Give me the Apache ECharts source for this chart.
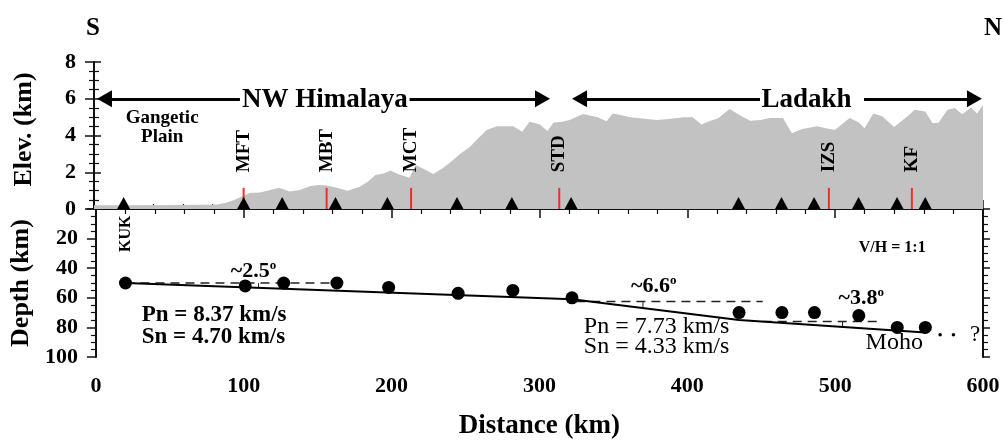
<!DOCTYPE html>
<html><head><meta charset="utf-8">
<script src="https://cdn.jsdelivr.net/npm/echarts@6/dist/echarts.min.js"></script>
<style>html,body{margin:0;padding:0;background:#fff}#c{width:1004px;height:441px}</style>
</head><body><div id="c"></div>
<script>
// ---- data ----
const elevDist = [0,20,60,83,90,95,99,105,112,119,125,132,139,146,152,157,164,171,179,185,190,196,200,205,213,217,222,229,235,240,247,254,260,265,272,278,283,289,294,301,306,310,316,321,330,340,346,350,356,362,373,380,388,398,404,410,416,421,429,437,443,450,456,465,471,478,488,494,500,510,516,520,526,532,540,549,554,561,566,570,576,581,586,592,596,600];
const elevKm = [0.2,0.2,0.22,0.25,0.35,0.5,0.65,0.87,0.9,1.03,1.16,0.95,1.03,1.25,1.3,1.28,1.15,1.0,1.2,1.5,1.85,1.95,2.1,1.9,1.7,2.4,2.2,1.9,2.2,2.5,3.0,3.4,3.9,4.3,4.5,4.5,4.5,4.2,4.75,4.6,4.25,4.7,4.75,4.85,5.17,5.0,4.78,5.2,5.1,5.0,4.9,4.85,4.9,5.0,5.0,4.6,4.8,4.93,5.44,5.05,4.8,4.84,4.95,4.95,4.12,4.35,4.5,4.4,4.3,4.95,4.72,4.4,5.2,5.05,4.46,5.05,5.4,5.3,4.66,4.7,5.4,5.5,5.15,5.52,5.2,5.66];
const stationDist = [20,101,127,163,198,245,282,322,435,464,486,516,542,561];
const mohoPtDepth = [50,52,50,50,53,57,55,60,70,70,70,72,80,80];
const mohoLineDist = [20,322,435,561];
const mohoLineDepth = [50,61,75,83.5];
const faultNames = ['MFT','MBT','MCT','STD','IZS','KF'];
const faultDist = [101,157,214,314,496,552];
const faultTop = 1.15;
const refDash = [[20,163,50],[325,451,62.5],[451,529,76]]; // [from, to, depth]
const angleMarks = [[110,50,53.5],[370,62.5,66.5],[505,76,79.5]];
const extDotsDist = [571,580];
const extDotsDepth = [85,85];
const distTicks = [0,100,200,300,400,500,600];
const elevTicks = [0,2,4,6,8];
const depthTicks = [0,20,40,60,80,100];
// region arrows: [tailKm, headKm] at 6 km elevation
const regionArrows = [[98.5,7.1],[213,302.7],[449.5,327.7],[519.7,594.2]];
const arrowElev = 6;

const FONT = 'Liberation Serif';
const axisCol = '#111';

function txt(gridIdx, items) {
  return {
    type: 'scatter', xAxisIndex: gridIdx === 0 ? 0 : 2, yAxisIndex: gridIdx === 0 ? 0 : 2,
    symbolSize: 1, itemStyle: { color: 'rgba(0,0,0,0)', opacity: 1 }, silent: true, clip: false, z: 20,
    label: { show: true, position: 'inside', color: '#000', opacity: 1, fontFamily: FONT, formatter: p => p.name },
    data: items
  };
}

const series = [];
// elevation profile
series.push({
  type: 'line', xAxisIndex: 0, yAxisIndex: 0, symbol: 'none', silent: true, z: 1,
  lineStyle: { width: 0 }, areaStyle: { color: '#c2c2c2', opacity: 1 },
  data: elevDist.map((d, i) => [d, elevKm[i]]),
  markLine: {
    silent: true, animation: false, symbol: ['none', 'triangle'], symbolSize: [17, 15],
    label: { show: false },
    lineStyle: { color: '#000', width: 3, type: 'solid', opacity: 1 },
    data: regionArrows.map(a => [{ coord: [a[0], arrowElev] }, { coord: [a[1], arrowElev] }])
  }
});
// fault lines
faultDist.forEach(f => series.push({
  type: 'line', xAxisIndex: 0, yAxisIndex: 0, symbol: 'none', silent: true, z: 3,
  lineStyle: { color: '#e8322c', width: 2 }, data: [[f, 0], [f, faultTop]]
}));
// stations
series.push({
  type: 'scatter', xAxisIndex: 0, yAxisIndex: 0, symbol: 'triangle', symbolSize: [13, 12],
  symbolOffset: [0, -6], itemStyle: { color: '#000', opacity: 1 }, silent: true, clip: false, z: 5,
  data: stationDist.map(d => [d, 0])
});
// moho line
series.push({
  type: 'line', xAxisIndex: 2, yAxisIndex: 2, symbol: 'none', silent: true, z: 4,
  lineStyle: { color: '#000', width: 2 }, data: mohoLineDist.map((d, i) => [d, mohoLineDepth[i]])
});
refDash.forEach(r => series.push({
  type: 'line', xAxisIndex: 2, yAxisIndex: 2, symbol: 'none', silent: true, z: 3,
  lineStyle: { color: '#222', width: 1.5, type: [9, 6] }, data: [[r[0], r[2]], [r[1], r[2]]]
}));
angleMarks.forEach(r => series.push({
  type: 'line', xAxisIndex: 2, yAxisIndex: 2, symbol: 'none', silent: true, z: 3,
  lineStyle: { color: '#222', width: 1 }, data: [[r[0], r[1]], [r[0], r[2]]]
}));
// moho points
series.push({
  type: 'scatter', xAxisIndex: 2, yAxisIndex: 2, symbol: 'circle', symbolSize: 13,
  itemStyle: { color: '#000', opacity: 1 }, silent: true, z: 6,
  data: stationDist.map((d, i) => [d, mohoPtDepth[i]])
});
series.push({
  type: 'scatter', xAxisIndex: 2, yAxisIndex: 2, symbol: 'circle', symbolSize: 3.5,
  itemStyle: { color: '#000', opacity: 1 }, silent: true, z: 6,
  data: extDotsDist.map((d, i) => [d, extDotsDepth[i]])
});

// texts top panel
const bigBold = { fontWeight: 'bold', fontSize: 27 };
const topTexts = [
  { name: 'NW Himalaya', value: [155.9, 5.93], label: bigBold },
  { name: 'Ladakh', value: [480.9, 5.93], label: bigBold },
  { name: 'Gangetic\nPlain', value: [46, 4.45], label: { fontWeight: 'bold', fontSize: 19, lineHeight: 19 } }
];
faultNames.forEach((n, i) => topTexts.push({
  name: n, value: [faultDist[i], 2.0],
  label: { fontWeight: 'bold', fontSize: 19, rotate: 90, align: 'left', verticalAlign: 'middle' }
}));
series.push(txt(0, topTexts));

const supRich = (sz) => ({
  a: { fontFamily: FONT, fontWeight: 'bold', fontSize: sz, lineHeight: sz + 2, color: '#000' },
  b: { fontFamily: FONT, fontWeight: 'bold', fontSize: Math.round(sz * 0.6), verticalAlign: 'top', lineHeight: Math.round(sz * 0.6), color: '#000' }
});
const botTexts = [
  { name: 'KUK', value: [20, 29], label: { fontWeight: 'bold', fontSize: 16, rotate: 90, align: 'left', verticalAlign: 'middle' } },
  { name: 'V/H = 1:1', value: [538.6, 26.2], label: { fontWeight: 'bold', fontSize: 16 } },
  { name: '{a|~2.5}{b|o}', value: [106.6, 42.3], label: { rich: supRich(22) } },
  { name: '{a|~6.6}{b|o}', value: [377.3, 52.3], label: { rich: supRich(22) } },
  { name: '{a|~3.8}{b|o}', value: [517.6, 60.4], label: { rich: supRich(22) } },
  { name: 'Pn = 8.37 km/s\nSn = 4.70 km/s', value: [31, 79], label: { fontWeight: 'bold', fontSize: 23, lineHeight: 22, align: 'left' } },
  { name: 'Pn = 7.73 km/s\nSn = 4.33 km/s', value: [330, 86.6], label: { fontSize: 24, lineHeight: 20, align: 'left' } },
  { name: 'Moho', value: [540, 90.6], label: { fontSize: 24 } },
  { name: '?', value: [594.6, 85.2], label: { fontSize: 23 } }
];
series.push(txt(1, botTexts));

const tickLabel = { fontFamily: FONT, fontWeight: 'bold', fontSize: 22, color: '#000' };
const axisLine = { show: true, lineStyle: { color: axisCol, width: 2 } };

const option = {
  animation: false,
  backgroundColor: '#fff',
  grid: [
    { left: 94, right: 21, top: 62, height: 147 },
    { left: 94, right: 21, top: 209, height: 149 }
  ],
  xAxis: [
    { gridIndex: 0, type: 'value', position: 'top', min: distTicks[0], max: distTicks[distTicks.length - 1], interval: 100,
      axisLine, axisTick: { show: true, length: 9, lineStyle: { width: 1.5, color: axisCol } },
      minorTick: { show: true, splitNumber: 5, length: 5, lineStyle: { width: 1.2, color: axisCol } },
      axisLabel: { show: false }, splitLine: { show: false } },
    { gridIndex: 0, type: 'value', position: 'bottom', min: 0, max: 600,
      axisLine, axisTick: { show: false }, axisLabel: { show: false }, splitLine: { show: false } },
    { gridIndex: 1, type: 'value', position: 'bottom', min: distTicks[0], max: distTicks[distTicks.length - 1], interval: 100,
      axisLine, axisTick: { show: true, length: 9, lineStyle: { width: 1.5, color: axisCol } },
      minorTick: { show: true, splitNumber: 5, length: 5, lineStyle: { width: 1.2, color: axisCol } },
      axisLabel: Object.assign({ margin: 18 }, tickLabel), splitLine: { show: false },
      name: 'Distance (km)', nameLocation: 'middle', nameGap: 56,
      nameTextStyle: { fontFamily: FONT, fontWeight: 'bold', fontSize: 27, color: '#000' } }
  ],
  yAxis: [
    { gridIndex: 0, type: 'value', position: 'left', min: elevTicks[0], max: elevTicks[elevTicks.length - 1], interval: 2,
      axisLine, axisTick: { show: true, length: 9, lineStyle: { width: 1.5, color: axisCol } },
      minorTick: { show: true, splitNumber: 4, length: 5, lineStyle: { width: 1.2, color: axisCol } },
      axisLabel: Object.assign({ margin: 18 }, tickLabel), splitLine: { show: false },
      name: 'Elev. (km)', nameLocation: 'middle', nameGap: 57,
      nameTextStyle: { fontFamily: FONT, fontWeight: 'bold', fontSize: 26, color: '#000', padding: [0, 0, 0, 12] } },
    { gridIndex: 0, type: 'value', position: 'right', min: 0, max: 8, interval: 2,
      axisLine, axisTick: { show: true, length: 7, lineStyle: { width: 1.5, color: axisCol } },
      minorTick: { show: true, splitNumber: 4, length: 5, lineStyle: { width: 1.2, color: axisCol } },
      axisLabel: { show: false }, splitLine: { show: false } },
    { gridIndex: 1, type: 'value', position: 'left', inverse: true, min: depthTicks[0], max: depthTicks[depthTicks.length - 1], interval: 20,
      axisLine, axisTick: { show: true, length: 9, lineStyle: { width: 1.5, color: axisCol } },
      minorTick: { show: true, splitNumber: 4, length: 5, lineStyle: { width: 1.2, color: axisCol } },
      axisLabel: Object.assign({ margin: 18, showMinLabel: false }, tickLabel), splitLine: { show: false },
      name: 'Depth (km)', nameLocation: 'middle', nameGap: 61,
      nameTextStyle: { fontFamily: FONT, fontWeight: 'bold', fontSize: 26, color: '#000' } },
    { gridIndex: 1, type: 'value', position: 'right', inverse: true, min: 0, max: 100, interval: 20,
      axisLine, axisTick: { show: true, length: 7, lineStyle: { width: 1.5, color: axisCol } },
      minorTick: { show: true, splitNumber: 4, length: 5, lineStyle: { width: 1.2, color: axisCol } },
      axisLabel: { show: false }, splitLine: { show: false } }
  ],
  graphic: [
    { type: 'text', left: 86, top: 16, style: { text: 'S', font: 'bold 25px "Liberation Serif"', fill: '#000' } },
    { type: 'text', left: 984, top: 16, style: { text: 'N', font: 'bold 25px "Liberation Serif"', fill: '#000' } }
  ],
  series
};
const chart = echarts.init(document.getElementById('c'), null, { renderer: 'canvas' });
chart.setOption(option);
</script></body></html>
